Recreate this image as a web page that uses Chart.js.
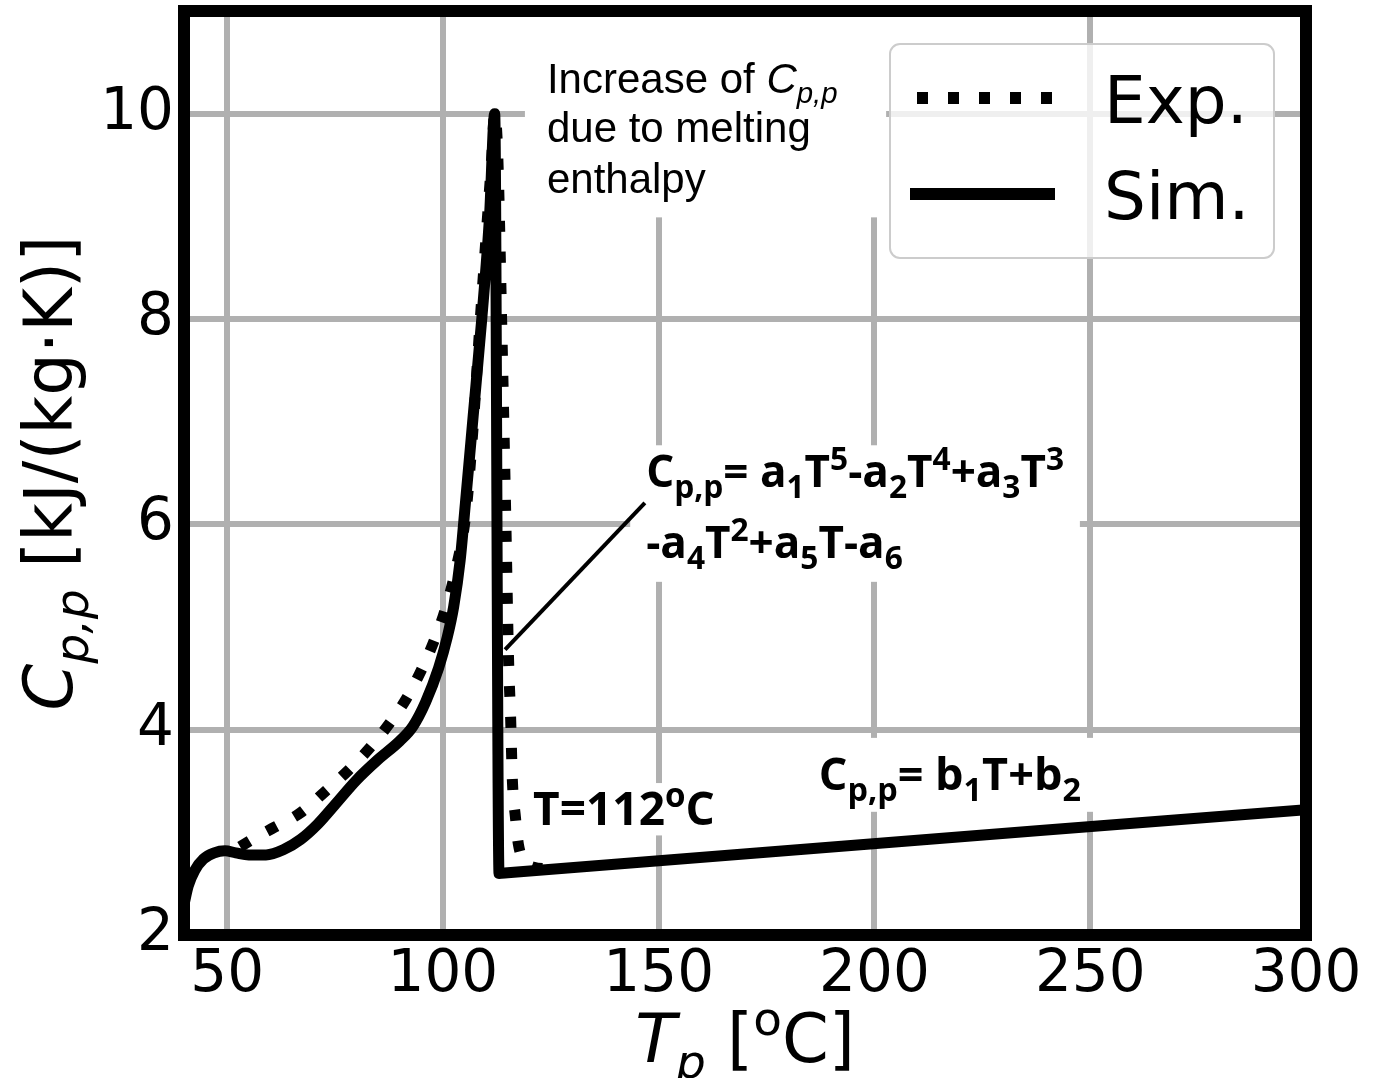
<!DOCTYPE html>
<html>
<head>
<meta charset="utf-8">
<script src="https://cdn.jsdelivr.net/npm/chart.js@4.4.1/dist/chart.umd.min.js"></script>
<style>
  html, body { margin: 0; padding: 0; background: #fff; }
  #wrap { width: 1386px; height: 1078px; position: relative; }
</style>
</head>
<body>
<div id="wrap"><canvas id="grafico"></canvas></div>
<script>
// Datos (T en ºC, Cp en kJ/(kg·K))
const simT  = [40, 41, 42.5, 44.5, 47, 49.5, 52, 55, 59, 63, 67, 71, 75, 80, 85, 90, 93, 96, 99, 101, 102.5, 104, 105.2, 107, 109, 110.8, 112, 113, 115, 300];
const simCp = [2.3, 2.48, 2.63, 2.74, 2.8, 2.82, 2.8, 2.78, 2.78, 2.83, 2.93, 3.08, 3.27, 3.51, 3.71, 3.89, 4.03, 4.27, 4.6, 4.9, 5.2, 5.65, 6.2, 7.05, 8.0, 9.0, 10.0, 2.6, 2.607, 3.22];

const expT  = [53, 57, 61, 67, 72.5, 78, 83, 87.6, 91.5, 95, 98, 100.4, 103.2, 105.3, 107, 108.5, 110, 111.2, 112, 112.7, 113.6, 114.5, 115.2, 115.7, 116.1, 116.8, 117.5, 119, 121, 124];
const expCp = [2.86, 2.96, 3.05, 3.19, 3.39, 3.6, 3.82, 4.06, 4.3, 4.58, 4.87, 5.15, 5.6, 6.1, 6.95, 7.9, 8.8, 9.5, 10.0, 9.6, 8.0, 6.2, 4.7, 4.1, 3.5, 3.15, 2.88, 2.72, 2.66, 2.645];

const etiquetas = ['Exp.', 'Sim.'];
const xTicks = [50, 100, 150, 200, 250, 300];
const yTicks = [2, 4, 6, 8, 10];

const puntos = (xs, ys) => xs.map((x, i) => ({ x: x, y: ys[i] }));

// Dibuja texto con subindices / superindices
function textoRico(ctx, x, y, partes, size, familia, peso, medir, esc) {
    const k = esc || 0.7;
    let cx = x;
    for (const [txt, modo, cursiva] of partes) {
        const s = modo ? size * k : size;
        const dy = modo === 'sub' ? size * 0.24 : (modo === 'sup' ? -size * 0.4 : 0);
        ctx.font = (cursiva ? 'italic ' : '') + (peso ? peso + ' ' : '') + s + 'px ' + familia;
        if (!medir) ctx.fillText(txt, cx, y + dy);
        cx += ctx.measureText(txt).width;
    }
    return cx - x;
}

const anotaciones = {
    id: 'anotaciones',
    beforeDatasetsDraw(chart) {
        const ctx = chart.ctx;
        const xs = chart.scales.x, ys = chart.scales.y;
        const X = v => xs.getPixelForValue(v), Y = v => ys.getPixelForValue(v);
        ctx.save();
        // cajas blancas detras de los textos
        ctx.fillStyle = '#fff';
        const cajas = [[119, 202.7, 10.99, 8.99], [143.4, 247.6, 6.77, 5.44], [119, 165.4, 3.48, 2.97], [183.9, 252.3, 3.92, 3.20]];
        cajas.forEach(c => ctx.fillRect(X(c[0]), Y(c[2]), X(c[1]) - X(c[0]), Y(c[3]) - Y(c[2])));

        ctx.fillStyle = '#000';
        ctx.textBaseline = 'alphabetic';
        ctx.textAlign = 'left';
        const arial = '"Liberation Sans", Arial, sans-serif';
        textoRico(ctx, X(124.1), Y(10.20), [['Increase of ', ''], ['C', '', true], ['p,p', 'sub', true]], 42, arial);
        textoRico(ctx, X(124.1), Y(9.72), [['due to melting', '']], 42, arial);
        textoRico(ctx, X(124.1), Y(9.23), [['enthalpy', '']], 42, arial);

        const open = '"Open Sans", sans-serif';
        textoRico(ctx, X(147.1), Y(6.36), [['C', ''], ['p,p', 'sub'], ['= a', ''], ['1', 'sub'], ['T', ''], ['5', 'sup'],
            ['-a', ''], ['2', 'sub'], ['T', ''], ['4', 'sup'], ['+a', ''], ['3', 'sub'], ['T', ''], ['3', 'sup']], 44, open, 'bold', false, 0.72);
        textoRico(ctx, X(147.1), Y(5.67), [['-a', ''], ['4', 'sub'], ['T', ''], ['2', 'sup'], ['+a', ''], ['5', 'sub'], ['T-a', ''], ['6', 'sub']], 44, open, 'bold', false, 0.72);
        textoRico(ctx, X(120.9), Y(3.07), [['T=112', ''], ['o', 'sup'], ['C', '']], 46, open, 'bold', false, 0.72);
        textoRico(ctx, X(187.1), Y(3.41), [['C', ''], ['p,p', 'sub'], ['= b', ''], ['1', 'sub'], ['T+b', ''], ['2', 'sub']], 45, open, 'bold', false, 0.72);
        ctx.restore();
    },
    afterDatasetsDraw(chart) {
        const ctx = chart.ctx, a = chart.chartArea;
        const xs = chart.scales.x, ys = chart.scales.y;
        ctx.save();
        // linea guia
        ctx.strokeStyle = '#000';
        ctx.lineWidth = 4;
        ctx.beginPath();
        ctx.moveTo(xs.getPixelForValue(114.4), ys.getPixelForValue(4.78));
        ctx.lineTo(xs.getPixelForValue(146.8), ys.getPixelForValue(6.21));
        ctx.stroke();
        // marco
        ctx.lineWidth = 12;
        ctx.strokeRect(a.left, a.top, a.right - a.left, a.bottom - a.top);
        ctx.restore();
    },
    afterDraw(chart) {
        const ctx = chart.ctx, a = chart.chartArea;
        ctx.save();
        ctx.fillStyle = '#000';
        ctx.textAlign = 'left';
        ctx.textBaseline = 'alphabetic';
        const dv = '"DejaVu Sans", sans-serif';
        // titulo eje y
        const py = [['C', '', true], ['p,p', 'sub', true], [' [kJ/(kg\u00b7K)]', '']];
        const wy = textoRico(ctx, 0, 0, py, 67, dv, '', true);
        ctx.save();
        ctx.translate(72, (a.top + a.bottom) / 2);
        ctx.rotate(-Math.PI / 2);
        textoRico(ctx, -wy / 2, 0, py, 67, dv);
        ctx.restore();
        // titulo eje x
        const px = [['T', '', true], ['p', 'sub', true], [' [', ''], ['o', 'sup'], ['C]', '']];
        const wx = textoRico(ctx, 0, 0, px, 67, dv, '', true);
        textoRico(ctx, (a.left + a.right) / 2 - wx / 2, 1062, px, 67, dv);

        // leyenda
        const lx = a.right - 416, ly = a.top + 33, lw = 384, lh = 214, r = 10;
        ctx.beginPath();
        ctx.moveTo(lx + r, ly);
        ctx.arcTo(lx + lw, ly, lx + lw, ly + lh, r);
        ctx.arcTo(lx + lw, ly + lh, lx, ly + lh, r);
        ctx.arcTo(lx, ly + lh, lx, ly, r);
        ctx.arcTo(lx, ly, lx + lw, ly, r);
        ctx.closePath();
        ctx.fillStyle = 'rgba(255,255,255,0.8)';
        ctx.fill();
        ctx.strokeStyle = '#cccccc';
        ctx.lineWidth = 2;
        ctx.stroke();
        chart.data.datasets.forEach((ds, i) => {
            const yy = ly + 54 + i * 96;
            ctx.beginPath();
            ctx.strokeStyle = ds.borderColor;
            ctx.lineWidth = ds.borderWidth + 1;
            ctx.lineCap = 'butt';
            ctx.setLineDash(ds.borderDash || []);
            ctx.lineDashOffset = ds.borderDash ? -7 : 0;
            ctx.moveTo(lx + 20, yy);
            ctx.lineTo(lx + 165, yy);
            ctx.stroke();
            ctx.setLineDash([]);
            ctx.fillStyle = '#000';
            ctx.font = '66px ' + dv;
            ctx.fillText(ds.label, lx + 214, yy + 25);
        });
        ctx.restore();
    }
};

const sinRelleno = s => { s.paddingTop = 0; s.paddingBottom = 0; s.paddingLeft = 0; s.paddingRight = 0; };

const ctx = document.getElementById('grafico').getContext('2d');
new Chart(ctx, {
    type: 'line',
    data: {
        datasets: [{
            label: etiquetas[0],
            data: puntos(expT, expCp),
            borderColor: '#000',
            borderWidth: 11,
            borderDash: [11, 20],
            borderCapStyle: 'butt',
            pointRadius: 0,
            cubicInterpolationMode: 'monotone',
            fill: false
        }, {
            label: etiquetas[1],
            data: puntos(simT, simCp),
            borderColor: '#000',
            borderWidth: 11,
            borderJoinStyle: 'round',
            pointRadius: 0,
            cubicInterpolationMode: 'monotone',
            fill: false
        }]
    },
    options: {
        responsive: true,
        maintainAspectRatio: false,
        animation: false,
        layout: { padding: { top: 11, right: 80, left: 0, bottom: 0 } },
        plugins: { legend: { display: false }, tooltip: { enabled: false } },
        scales: {
            x: {
                type: 'linear', min: 40, max: 300,
                afterBuildTicks: s => { s.ticks = xTicks.map(v => ({ value: v })); },
                afterFit: s => { s.height = 143; sinRelleno(s); },
                grid: { color: '#b0b0b0', lineWidth: 6, drawTicks: false },
                border: { display: false },
                ticks: { color: '#000', font: { family: 'DejaVu Sans', size: 58 }, padding: 6, maxRotation: 0, autoSkip: false }
            },
            y: {
                type: 'linear', min: 2, max: 11,
                afterBuildTicks: s => { s.ticks = yTicks.map(v => ({ value: v })); },
                afterFit: s => { s.width = 184; sinRelleno(s); },
                grid: { color: '#b0b0b0', lineWidth: 6, drawTicks: false },
                border: { display: false },
                ticks: { color: '#000', font: { family: 'DejaVu Sans', size: 58 }, padding: 10, autoSkip: false }
            }
        }
    },
    plugins: [anotaciones]
});
</script>
</body>
</html>
